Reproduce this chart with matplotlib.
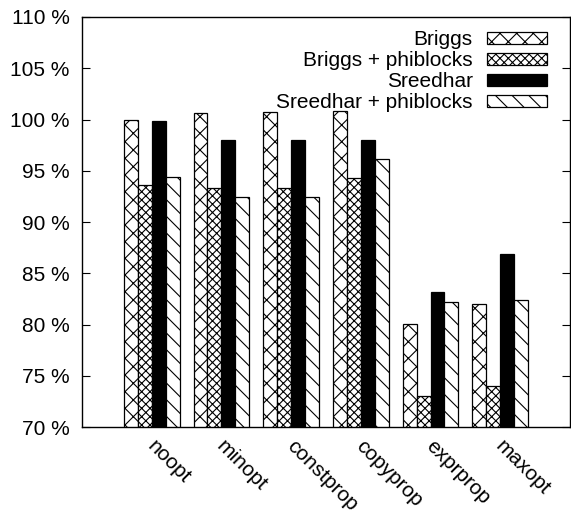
import matplotlib

matplotlib.use("Agg")

import matplotlib.pyplot as plt
import matplotlib.transforms as mtransforms
import numpy as np

# relative results per optimisation level, in percent
LEVELS = ["noopt", "minopt", "constprop", "copyprop", "exprprop", "maxopt"]
BRIGGS = [100.0, 100.6, 100.7, 100.8, 80.1, 82.0]
BRIGGS_PHI = [93.6, 93.3, 93.3, 94.3, 73.0, 74.0]
SREEDHAR = [99.85, 98.0, 98.0, 98.0, 83.2, 86.9]
SREEDHAR_PHI = [94.4, 92.4, 92.4, 96.1, 82.2, 82.4]

SERIES = [
    ("Briggs", BRIGGS, "white", "xx"),
    ("Briggs + phiblocks", BRIGGS_PHI, "white", "xxxx"),
    ("Sreedhar", SREEDHAR, "black", None),
    ("Sreedhar + phiblocks", SREEDHAR_PHI, "white", "\\\\"),
]

plt.rcParams["font.family"] = ["Liberation Sans", "DejaVu Sans"]
plt.rcParams["hatch.linewidth"] = 0.8

fig = plt.figure(figsize=(5.71, 5.14), dpi=100)
ax = fig.add_axes([0.1436, 0.169, 0.8545, 0.798])

x = np.arange(len(LEVELS))
width = 0.2
for i, (label, vals, face, hatch) in enumerate(SERIES):
    ax.bar(
        x + (i - 1.5) * width,
        vals,
        width,
        bottom=0,
        color=face,
        edgecolor="black",
        linewidth=0.9,
        hatch=hatch,
        label=label,
    )

ax.set_xlim(-1.0, 6.0)
ax.set_ylim(70, 110)
ax.set_yticks(range(70, 111, 5))
ax.set_yticklabels([f"{v} %" for v in range(70, 111, 5)], fontsize=15)
ax.set_xticks(x)
ax.set_xticklabels([])

# slanted category labels hanging from the bottom axis
lab_trans = mtransforms.offset_copy(
    ax.get_xaxis_transform(), fig=fig, x=0.05, y=-0.09, units="inches"
)
for xi, name in zip(x, LEVELS):
    ax.text(
        xi, 0, name, transform=lab_trans, rotation=-45, ha="left", va="top",
        rotation_mode="anchor", fontsize=15,
    )

ax.tick_params(axis="y", direction="in", length=5.5, width=0.8, right=True, pad=9)
ax.tick_params(axis="x", length=0)
for spine in ax.spines.values():
    spine.set_linewidth(1.0)

ax.legend(
    loc="upper right",
    bbox_to_anchor=(0.953, 0.968),
    frameon=False,
    fontsize=15,
    markerfirst=False,
    handlelength=2.9,
    handleheight=0.5,
    handletextpad=0.67,
    labelspacing=0.1,
    borderpad=0,
    borderaxespad=0,
)

fig.savefig("out.png", dpi=100)
